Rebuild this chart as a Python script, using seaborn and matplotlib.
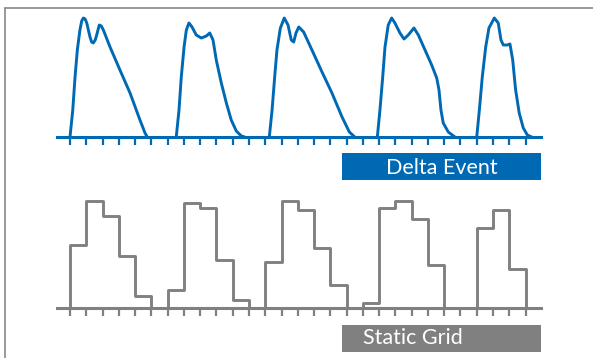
import numpy as np
import pandas as pd
import matplotlib
matplotlib.use("Agg")
import matplotlib.pyplot as plt
from matplotlib.patches import Rectangle
from matplotlib.lines import Line2D
import seaborn as sns

# Delta event curve: (tick position, height), one list per event
event_x = [
    [0.00, 0.17, 0.31, 0.45, 0.61, 0.72, 0.82, 0.93, 1.03, 1.23, 1.33, 1.43, 1.55, 1.64, 1.80, 1.92, 2.05, 2.46, 3.07, 3.69, 4.30, 4.61, 4.75],
    [6.53, 6.70, 6.84, 7.01, 7.15, 7.31, 7.50, 7.76, 8.07, 8.38, 8.59, 8.79, 8.99, 9.30, 9.61, 9.91, 10.22, 10.53, 10.74],
    [12.25, 12.42, 12.58, 12.72, 12.93, 13.17, 13.40, 13.60, 13.75, 13.89, 14.06, 14.36, 14.87, 15.49, 16.10, 16.72, 17.17, 17.50],
    [18.89, 19.05, 19.22, 19.36, 19.56, 19.77, 19.97, 20.28, 20.53, 20.79, 21.14, 21.41, 21.82, 22.23, 22.54, 22.68, 22.80, 22.94, 23.25, 23.66],
    [25.00, 25.16, 25.34, 25.55, 25.75, 26.08, 26.32, 26.49, 26.63, 26.88, 27.04, 27.21, 27.39, 27.61, 27.86, 28.11, 28.38],
]
event_y = [
    [0, 27, 60, 87, 107, 116, 119, 118, 114, 100, 95, 94, 97, 102, 112, 111, 107, 90, 67, 44, 17, 4, 0],
    [0, 27, 60, 90, 107, 114, 110, 102, 99, 101, 104, 97, 77, 54, 34, 17, 6, 1, 0],
    [0, 27, 60, 87, 109, 119, 112, 97, 95, 104, 110, 105, 87, 65, 44, 20, 5, 0],
    [0, 27, 60, 90, 112, 119, 114, 104, 98, 102, 109, 102, 87, 72, 59, 47, 27, 14, 5, 0],
    [0, 27, 60, 90, 109, 119, 114, 97, 92, 92, 93, 77, 47, 24, 9, 2, 0],
]

# Static grid: one value per tick interval
grid_edges = list(range(29))
grid_heights = [62, 106, 91, 51, 12, 0, 18, 104, 99, 47, 8, 0, 45, 106, 97, 59, 22, 0,
                5, 99, 106, 88, 42, 0, 0, 79, 97, 38]

ticks = list(range(29))
labels = ["Delta Event", "Static Grid"]

blue = "#0069b4"
gray = "#808080"

sns.set_style("white")
plt.rcParams["font.family"] = ["Lato", "DejaVu Sans"]

W, H = 593, 358
fig = plt.figure(figsize=(W / 100, H / 100), dpi=100)


def fx(px):
    return px / W


def fy(py):
    return 1 - py / H


# tick k sits at pixel 70 + 16.27 k
x0, dx = 70, 16.27
xlim = (-x0 / dx, (W - x0) / dx)

ax_top = fig.add_axes([0, fy(180), 1, 180 / H])
ax_bot = fig.add_axes([0, 0, 1, 1 - fy(180)])

# top: event curve
for xs, ys in zip(event_x, event_y):
    df = pd.DataFrame({"x": xs, "y": ys})
    sns.lineplot(data=df, x="x", y="y", ax=ax_top, color=blue, lw=2.1,
                 estimator=None, sort=False)
ax_top.set_xlim(*xlim)
ax_top.set_ylim(137 - 180, 137)

# bottom: step outline
step = pd.DataFrame({"x": [grid_edges[0]] + grid_edges,
                     "y": [0] + grid_heights + [0]})
sns.lineplot(data=step, x="x", y="y", ax=ax_bot, color=gray, lw=2.1,
             estimator=None, sort=False, drawstyle="steps-post")
ax_bot.set_xlim(*xlim)
ax_bot.set_ylim(308.3 - 358, 308.3 - 180)

for ax, c in [(ax_top, blue), (ax_bot, gray)]:
    ax.patch.set_visible(False)
    for s in ["left", "right", "top"]:
        ax.spines[s].set_visible(False)
    ax.spines["bottom"].set_position(("data", 0))
    ax.spines["bottom"].set_bounds((57 - x0) / dx, (541 - x0) / dx)
    ax.spines["bottom"].set_color(c)
    ax.spines["bottom"].set_linewidth(2.2)
    ax.set_xticks(ticks)
    ax.set_xticklabels([])
    ax.set_yticks([])
    ax.tick_params(axis="x", direction="out", length=6, width=1.6, color=c, bottom=True)
    ax.set_xlabel("")
    ax.set_ylabel("")

# label boxes
fig.add_artist(Rectangle((fx(342), fy(180)), fx(541) - fx(342), fy(153.3) - fy(180),
                         transform=fig.transFigure, color=blue, lw=0))
fig.text(fx(441.5), fy(168), labels[0], color="white", fontsize=15.5,
         ha="center", va="center")
fig.add_artist(Rectangle((fx(342), fy(351.7)), fx(541) - fx(342), fy(325) - fy(351.7),
                         transform=fig.transFigure, color=gray, lw=0))
fig.text(fx(363), fy(338), labels[1], color="white", fontsize=15.5,
         ha="left", va="center")

# frame lines on top and left
fig.add_artist(Line2D([fx(5), 1], [fy(8), fy(8)], transform=fig.transFigure,
                      color="#888888", lw=1.2))
fig.add_artist(Line2D([fx(5), fx(5)], [0, fy(8)], transform=fig.transFigure,
                      color="#888888", lw=1.2))

fig.savefig("out.png", dpi=100)
